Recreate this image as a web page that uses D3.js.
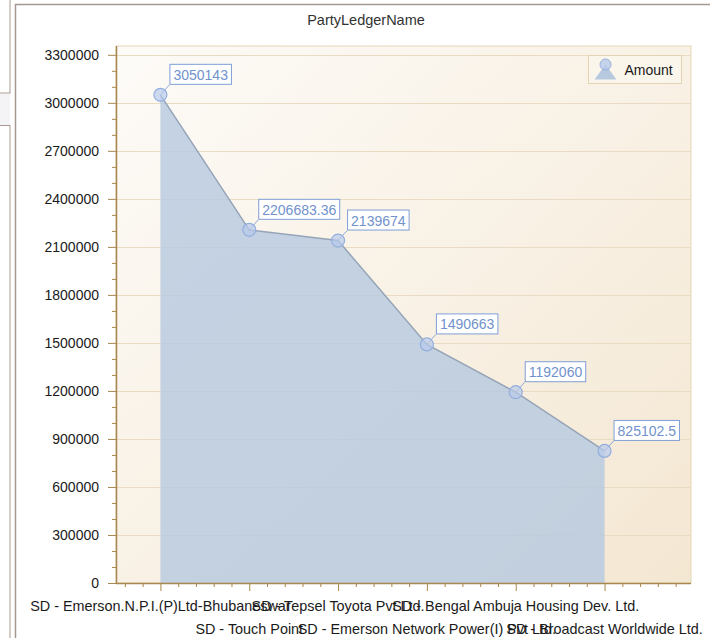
<!DOCTYPE html>
<html>
<head>
<meta charset="utf-8">
<script src="https://cdn.jsdelivr.net/npm/d3@7"></script>
<style>
	body { margin: 0; background: #ffffff; }
	svg { display: block; font-family: "Liberation Sans", Arial, sans-serif; }
</style>
</head>
<body>
<div class="area-chart"></div>
<script>
var categories = [
	'SD - Emerson.N.P.I.(P)Ltd-Bhubaneswar',
	'SD - Touch Point',
	'SD - Tepsel Toyota Pvt Ltd.',
	'SD - Emerson Network Power(I) Pvt Ltd.',
	'SD - Bengal Ambuja Housing Dev. Ltd.',
	'SD - Broadcast Worldwide Ltd.'
];
var amounts = [3050143, 2206683.36, 2139674, 1490663, 1192060, 825102.5];
var yTickValues = [0, 300000, 600000, 900000, 1200000, 1500000, 1800000, 2100000, 2400000, 2700000, 3000000, 3300000];
var seriesName = 'Amount';
var chartTitle = 'PartyLedgerName';

var W = 710, H = 638;
var plot = { left : 116, top : 46, right : 691, bottom : 583 };

var svg = d3.select(".area-chart").append("svg")
	.attr("width", W)
	.attr("height", H);

var defs = svg.append("defs");
var grad = defs.append("linearGradient")
	.attr("id", "plotBg")
	.attr("x1", "0").attr("y1", "0")
	.attr("x2", "1").attr("y2", "1");
grad.append("stop").attr("offset", "0%").attr("stop-color", "#fdfbf8");
grad.append("stop").attr("offset", "100%").attr("stop-color", "#f4e7d2");

// bits of the neighbouring panels on the left
svg.append("rect").attr("x", -1).attr("y", -1).attr("width", 11).attr("height", 94)
	.attr("fill", "#ffffff").attr("stroke", "#a89a90");
svg.append("rect").attr("x", 0).attr("y", 94).attr("width", 10).attr("height", 31)
	.attr("fill", "#f4f4f7");
svg.append("rect").attr("x", -1).attr("y", 125.5).attr("width", 11).attr("height", 520)
	.attr("fill", "#ffffff").attr("stroke", "#a89a90");

// chart frame
svg.append("rect").attr("x", 15.5).attr("y", 4.5).attr("width", 710).attr("height", 650)
	.attr("fill", "#ffffff").attr("stroke", "#a49890").attr("stroke-width", 1.5);

svg.append("text")
	.attr("x", 366)
	.attr("y", 25)
	.attr("text-anchor", "middle")
	.attr("font-size", "14.5px")
	.attr("fill", "#333333")
	.text(chartTitle);

var yScale = d3.scaleLinear()
	.domain([0, d3.max(amounts) * 1.1])
	.range([plot.bottom, plot.top]);

var xScale = d3.scaleLinear()
	.domain([-0.5, 6])
	.range([plot.left, plot.left + 6.5 * 88.83]);

// plot background
svg.append("rect")
	.attr("x", plot.left)
	.attr("y", plot.top)
	.attr("width", plot.right - plot.left)
	.attr("height", plot.bottom - plot.top)
	.attr("fill", "url(#plotBg)")
	.attr("stroke", "#e6d6b6");

// grid
svg.append("g").selectAll("line")
	.data(yTickValues.slice(1))
	.enter()
	.append("line")
	.attr("x1", plot.left)
	.attr("x2", plot.right)
	.attr("y1", function ( d ) { return Math.round(yScale(d)) + 0.5; })
	.attr("y2", function ( d ) { return Math.round(yScale(d)) + 0.5; })
	.attr("stroke", "#e9dcc2");

// area + line
var area = d3.area()
	.x(function ( d, i ) { return xScale(i); })
	.y0(yScale(0))
	.y1(function ( d ) { return yScale(d); });

var line = d3.line()
	.x(function ( d, i ) { return xScale(i); })
	.y(function ( d ) { return yScale(d); });

svg.append("path")
	.datum(amounts)
	.attr("d", area)
	.attr("fill", "#b7c9df")
	.attr("fill-opacity", 0.82);

svg.append("path")
	.datum(amounts)
	.attr("d", line)
	.attr("fill", "none")
	.attr("stroke", "#96a4b8")
	.attr("stroke-width", 1.5);

// axes
var axisColor = "#a8884f";

var yAxis = svg.append("g")
	.attr("class", "y axis")
	.attr("transform", "translate(" + plot.left + ",0)")
	.call(d3.axisLeft(yScale).tickValues(yTickValues).tickSize(8).tickPadding(9).tickFormat(d3.format("d")));

var yMinor = d3.range(0, 3300001, 100000).filter(function ( v ) { return v % 300000 !== 0; });
svg.append("g")
	.attr("transform", "translate(" + plot.left + ",0)")
	.call(d3.axisLeft(yScale).tickValues(yMinor).tickSize(4).tickFormat(""))
	.call(function ( g ) { g.select(".domain").remove(); });

var xAxis = svg.append("g")
	.attr("class", "x axis")
	.attr("transform", "translate(0," + plot.bottom + ")")
	.call(d3.axisBottom(xScale).tickValues(d3.range(categories.length)).tickSize(8).tickFormat(""));

var xMinor = d3.range(-2, 30).map(function ( k ) { return k / 5; })
	.filter(function ( v ) { return Math.abs(v - Math.round(v)) > 0.01 && v > -0.5 && v < 5.95; });
svg.append("g")
	.attr("transform", "translate(0," + plot.bottom + ")")
	.call(d3.axisBottom(xScale).tickValues(xMinor).tickSize(4).tickFormat(""))
	.call(function ( g ) { g.select(".domain").remove(); });

yAxis.select(".domain").remove();
xAxis.select(".domain").remove();
svg.append("line")
	.attr("x1", plot.left + 0.5).attr("x2", plot.left + 0.5)
	.attr("y1", plot.top).attr("y2", plot.bottom + 0.5)
	.attr("stroke", axisColor).attr("stroke-width", 1.5);
svg.append("line")
	.attr("x1", plot.left).attr("x2", plot.right)
	.attr("y1", plot.bottom + 0.5).attr("y2", plot.bottom + 0.5)
	.attr("stroke", axisColor).attr("stroke-width", 1.5);

svg.selectAll(".tick line").attr("stroke", axisColor);
yAxis.selectAll("text")
	.attr("font-size", "14px")
	.attr("font-family", "Liberation Sans, Arial, sans-serif")
	.attr("fill", "#1a1a1a");

// category labels, staggered on two rows (they overlap in the original too)
svg.append("g").selectAll("text")
	.data(categories)
	.enter()
	.append("text")
	.attr("x", function ( d, i ) { return xScale(i); })
	.attr("y", function ( d, i ) { return i % 2 === 0 ? 611 : 634; })
	.attr("text-anchor", "middle")
	.attr("font-size", "14.4px")
	.attr("fill", "#1a1a1a")
	.text(function ( d ) { return d; });

// markers
var points = svg.append("g").selectAll("g")
	.data(amounts)
	.enter()
	.append("g")
	.attr("transform", function ( d, i ) {
		return "translate(" + xScale(i) + "," + yScale(d) + ")";
	});

points.append("line")
	.attr("x1", 0).attr("y1", 0)
	.attr("x2", 9).attr("y2", -10)
	.attr("stroke", "#8ea8d6");

points.append("circle")
	.attr("r", 6.5)
	.attr("fill", "#b8cbeb")
	.attr("fill-opacity", 0.7)
	.attr("stroke", "#93aedd")
	.attr("stroke-width", 1.2);

// value labels
points.each(function ( d ) {
	var g = d3.select(this);
	var box = g.append("rect")
		.attr("fill", "#ffffff")
		.attr("stroke", "#7f9fd6");
	var t = g.append("text")
		.attr("x", 13)
		.attr("y", -15)
		.attr("font-size", "14px")
		.attr("fill", "#7192cc")
		.text(String(d));
	var w = t.node().getComputedTextLength();
	box.attr("x", 9.5).attr("y", -30.5).attr("width", w + 7).attr("height", 20);
});

// legend
var legend = svg.append("g").attr("transform", "translate(588.5,55.5)");
legend.append("rect")
	.attr("width", 93).attr("height", 28)
	.attr("fill", "#fbf6ec")
	.attr("stroke", "#e3d3b2");
legend.append("path")
	.attr("d", "M6,24 L17,9 L28,24 Z")
	.attr("fill", "#b7c9df");
legend.append("circle")
	.attr("cx", 17).attr("cy", 9).attr("r", 5.5)
	.attr("fill", "#b8cbeb")
	.attr("fill-opacity", 0.8)
	.attr("stroke", "#93aedd");
legend.append("text")
	.attr("x", 36).attr("y", 19)
	.attr("font-size", "14px")
	.attr("fill", "#1a1a1a")
	.text(seriesName);
</script>
</body>
</html>
